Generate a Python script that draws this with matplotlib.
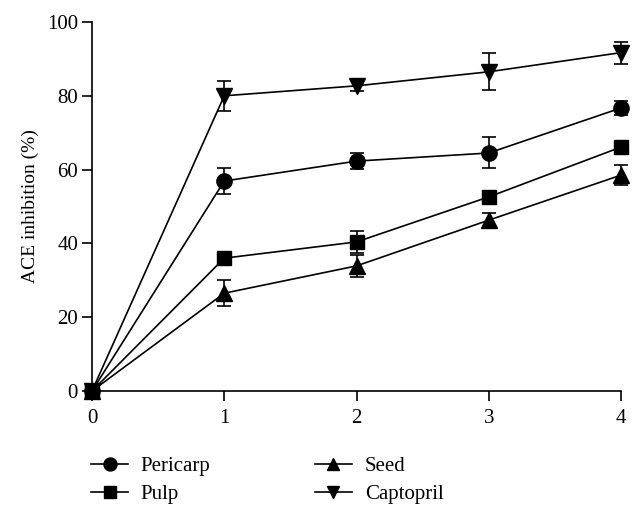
import matplotlib
matplotlib.use("Agg")
import matplotlib.pyplot as plt
from matplotlib.lines import Line2D

plt.rcParams['font.family'] = ['Liberation Serif', 'DejaVu Serif']

x = [0, 1, 2, 3, 4]
xticks = [0, 1, 2, 3, 4]
yticks = [0, 20, 40, 60, 80, 100]

pericarp = [0, 56.9, 62.3, 64.5, 76.7]
pericarp_err = [0, 3.4, 2.2, 4.2, 2.0]
pulp = [0, 36.0, 40.4, 52.6, 66.1]
pulp_err = [0, 1.0, 3.0, 1.5, 1.5]
seed = [0, 26.5, 33.9, 46.3, 58.5]
seed_err = [0, 3.5, 3.0, 2.0, 2.7]
captopril = [0, 80.0, 82.7, 86.5, 91.7]
captopril_err = [0, 4.0, 1.5, 5.0, 3.0]

series = [
    ("Pericarp", pericarp, pericarp_err, "o", 11),
    ("Pulp", pulp, pulp_err, "s", 10.5),
    ("Seed", seed, seed_err, "^", 11),
    ("Captopril", captopril, captopril_err, "v", 11),
]

fig = plt.figure(figsize=(6.42, 5.2), dpi=100)
ax = fig.add_axes([92/642, 1-391/520, (621-92)/642, (391-22)/520])

handles = []
for name, vals, err, mk, ms in series:
    eb = ax.errorbar(x, vals, yerr=err, color="black", marker=mk, markersize=ms,
                     linewidth=1.2, elinewidth=1.2, capsize=4.7, capthick=1.2,
                     label=name, clip_on=False, zorder=3)
    eb.lines[0].set_clip_on(False)
    for group in eb.lines[1:]:
        for a in group:
            a.set_clip_on(False)
    handles.append(Line2D([], [], color="black", marker=mk, markersize=ms * 0.85,
                          linewidth=1.2))

ax.set_xlim(0, 4)
ax.set_ylim(0, 100)
ax.set_xticks(xticks)
ax.set_yticks(yticks)
ax.spines['top'].set_visible(False)
ax.spines['right'].set_visible(False)
for s in ['left', 'bottom']:
    ax.spines[s].set_linewidth(1.2)
ax.tick_params(direction='out', length=7, width=1.2, labelsize=15, pad=3)
ax.tick_params(axis='x', pad=6)
ax.set_ylabel("ACE inhibition (%)", fontsize=14, labelpad=6)

leg = fig.legend(handles=handles, labels=[s[0] for s in series], ncol=2,
                 loc='upper left', bbox_to_anchor=(72/642, 1-438/520),
                 frameon=False, fontsize=15, handlelength=1.8,
                 columnspacing=5.0, labelspacing=0.38, handletextpad=0.6)

fig.savefig("out.png", dpi=100)
